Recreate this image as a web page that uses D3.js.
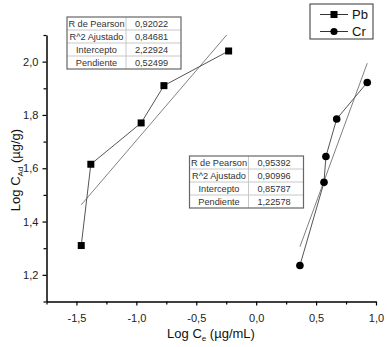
<!DOCTYPE html>
<html>
<head>
<meta charset="utf-8">
<script src="https://cdn.jsdelivr.net/npm/d3@7"></script>
<style>
  body { margin: 0; background: #fff; }
  svg { display: block; font-family: "Liberation Sans", Arial, sans-serif; }
</style>
</head>
<body>
<div id="chart"></div>
<script>
// data
const pbX = [-1.46, -1.38, -0.96, -0.77, -0.23]
const pbY = [1.31, 1.615, 1.77, 1.91, 2.04]
const crX = [0.365, 0.566, 0.582, 0.672, 0.927]
const crY = [1.235, 1.547, 1.644, 1.785, 1.922]

const statNames = ["R de Pearson", "R^2 Ajustado", "Intercepto", "Pendiente"]
const pbStats = ["0,92022", "0,84681", "2,22924", "0,52499"]
const crStats = ["0,95392", "0,90996", "0,85787", "1,22578"]
const pbFit = { intercept: 2.22924, slope: 0.52499 }
const crFit = { intercept: 0.85787, slope: 1.22578 }

const xTicks = [-1.5, -1.0, -0.5, 0.0, 0.5, 1.0]
const yTicks = [1.2, 1.4, 1.6, 1.8, 2.0]

const width = 387, height = 347
const margin = { left: 46.5, right: 11, top: 35, bottom: 45.5 }

const svg = d3.select("#chart").append("svg")
    .attr("width", width)
    .attr("height", height)

const x = d3.scaleLinear().domain([-1.75, 1.0]).range([margin.left, width - margin.right])
const y = d3.scaleLinear().domain([1.1, 2.1]).range([height - margin.bottom, margin.top])

const fmt = d => d3.format(".1f")(d).replace(".", ",").replace("−", "-")

svg.append("clipPath").attr("id", "clip")
    .append("rect")
    .attr("x", x.range()[0]).attr("y", y.range()[1])
    .attr("width", x.range()[1] - x.range()[0])
    .attr("height", y.range()[0] - y.range()[1])

const plot = svg.append("g").attr("clip-path", "url(#clip)")

// fit lines
function fitLine(xs, fit) {
    const x0 = d3.min(xs), x1 = d3.max(xs)
    plot.append("line")
        .attr("x1", x(x0)).attr("y1", y(fit.intercept + fit.slope * x0))
        .attr("x2", x(x1)).attr("y2", y(fit.intercept + fit.slope * x1))
        .attr("stroke", "#808080")
        .attr("stroke-width", 1)
}
fitLine(pbX, pbFit)
fitLine(crX, crFit)

// data lines
const line = d3.line().x(d => x(d[0])).y(d => y(d[1]))
const pb = pbX.map((v, i) => [v, pbY[i]])
const cr = crX.map((v, i) => [v, crY[i]])

plot.append("path").datum(pb).attr("d", line)
    .attr("fill", "none").attr("stroke", "#555").attr("stroke-width", 1)
plot.append("path").datum(cr).attr("d", line)
    .attr("fill", "none").attr("stroke", "#555").attr("stroke-width", 1)

svg.selectAll(".sq").data(pb).enter().append("rect")
    .attr("class", "sq")
    .attr("x", d => x(d[0]) - 3.5).attr("y", d => y(d[1]) - 3.5)
    .attr("width", 7).attr("height", 7)
    .attr("fill", "#000")

svg.selectAll(".dot").data(cr).enter().append("circle")
    .attr("class", "dot")
    .attr("cx", d => x(d[0])).attr("cy", d => y(d[1]))
    .attr("r", 3.8)
    .attr("fill", "#000")

// axes
const xAxis = svg.append("g")
    .attr("transform", "translate(0," + y.range()[0] + ")")
    .call(d3.axisBottom(x).tickValues(xTicks).tickFormat(fmt).tickSize(4).tickSizeOuter(0))
svg.append("g")
    .attr("transform", "translate(0," + y.range()[0] + ")")
    .call(d3.axisBottom(x).tickValues(d3.range(-1.75, 1.01, 0.25).filter(v => !xTicks.some(t => Math.abs(t - v) < 1e-6))).tickFormat("").tickSize(3).tickSizeOuter(0))
    .select(".domain").remove()

const yAxis = svg.append("g")
    .attr("transform", "translate(" + x.range()[0] + ",0)")
    .call(d3.axisLeft(y).tickValues(yTicks).tickFormat(fmt).tickSize(4).tickSizeOuter(0))
svg.append("g")
    .attr("transform", "translate(" + x.range()[0] + ",0)")
    .call(d3.axisLeft(y).tickValues([1.1, 1.3, 1.5, 1.7, 1.9, 2.1]).tickFormat("").tickSize(3).tickSizeOuter(0))
    .select(".domain").remove()

svg.selectAll(".domain").attr("stroke", "#000").attr("stroke-width", 1.5)
svg.selectAll(".tick line").attr("stroke", "#000").attr("stroke-width", 1.2)
svg.selectAll(".tick text")
    .attr("font-family", "Liberation Sans, Arial, sans-serif")
    .attr("font-size", 11)
    .attr("fill", "#222")
xAxis.selectAll(".tick text").attr("dy", "1.25em")
yAxis.selectAll(".tick text").attr("dx", "-0.1em")

// axis titles
const xt = svg.append("text")
    .attr("x", 211).attr("y", 338)
    .attr("text-anchor", "middle")
    .attr("font-size", 13).attr("fill", "#111")
xt.append("tspan").text("Log C")
xt.append("tspan").attr("font-size", 8).attr("dy", 3).text("e")
xt.append("tspan").attr("dy", -3).text(" (\u00b5g/mL)")

const yt = svg.append("text")
    .attr("transform", "translate(20,170) rotate(-90)")
    .attr("text-anchor", "middle")
    .attr("font-size", 13).attr("fill", "#111")
yt.append("tspan").text("Log C")
yt.append("tspan").attr("font-size", 8).attr("dy", 3).text("Ad")
yt.append("tspan").attr("dy", -3).text(" (\u00b5g/g)")

// stats tables
function statTable(left, top, values) {
    const w1 = 59, w2 = 55, rh = 13
    const g = svg.append("g").attr("transform", "translate(" + left + "," + top + ")")
    for (let i = 1; i < statNames.length; i++) {
        g.append("line").attr("x1", 0).attr("x2", w1 + w2)
            .attr("y1", i * rh).attr("y2", i * rh)
            .attr("stroke", "#c8c8c8").attr("stroke-width", 1)
    }
    g.append("line").attr("x1", w1).attr("x2", w1)
        .attr("y1", 0).attr("y2", rh * statNames.length)
        .attr("stroke", "#c8c8c8").attr("stroke-width", 1)
    g.append("rect").attr("width", w1 + w2).attr("height", rh * statNames.length)
        .attr("fill", "none").attr("stroke", "#666").attr("stroke-width", 1.2)
    statNames.forEach((n, i) => {
        g.append("text").attr("x", w1 / 2).attr("y", i * rh + 9.8)
            .attr("text-anchor", "middle").attr("font-size", 9.2).attr("fill", "#333")
            .text(n)
        g.append("text").attr("x", w1 + w2 / 2 - 2).attr("y", i * rh + 9.8)
            .attr("text-anchor", "middle").attr("font-size", 9.2).attr("fill", "#333")
            .text(values[i])
    })
}
statTable(67, 17, pbStats)
statTable(189.5, 156, crStats)

// legend
const lg = svg.append("g").attr("transform", "translate(310,4)")
lg.append("rect").attr("width", 63).attr("height", 35)
    .attr("fill", "#fff").attr("stroke", "#333").attr("stroke-width", 1)
const entries = [{ name: "Pb", sym: "sq" }, { name: "Cr", sym: "dot" }]
entries.forEach((e, i) => {
    const cy = 10.5 + i * 17
    lg.append("line").attr("x1", 10).attr("x2", 38).attr("y1", cy).attr("y2", cy)
        .attr("stroke", "#333").attr("stroke-width", 1)
    if (e.sym == "sq") {
        lg.append("rect").attr("x", 24 - 3.5).attr("y", cy - 3.5).attr("width", 7).attr("height", 7).attr("fill", "#000")
    } else {
        lg.append("circle").attr("cx", 24).attr("cy", cy).attr("r", 3.6).attr("fill", "#000")
    }
    lg.append("text").attr("x", 42).attr("y", cy + 4.8)
        .attr("font-size", 13).attr("fill", "#111").text(e.name)
})
</script>
</body>
</html>
